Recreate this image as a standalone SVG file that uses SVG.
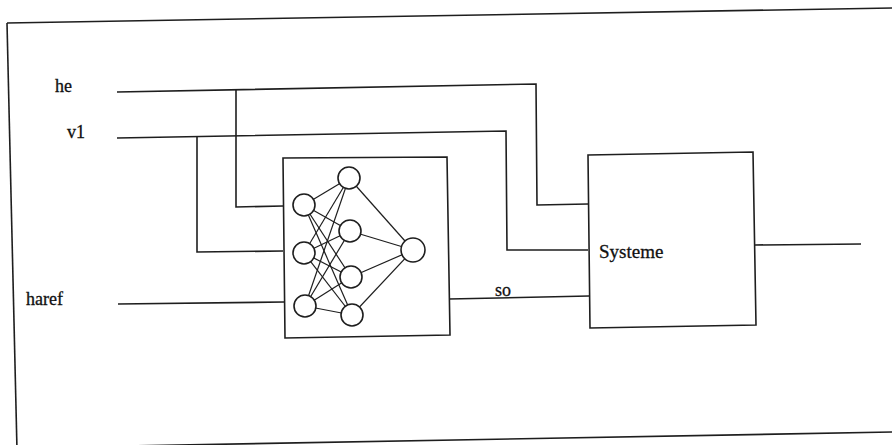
<svg xmlns="http://www.w3.org/2000/svg" width="892" height="445" viewBox="0 0 892 445">
<style>
.ln{fill:none;stroke:#1e1e1e;stroke-width:1.6;stroke-linejoin:miter}
.box{fill:#ffffff;stroke:#1e1e1e;stroke-width:1.6}
.nr{fill:#ffffff;stroke:#1e1e1e;stroke-width:1.6}
.ed{stroke:#1e1e1e;stroke-width:1.2}
.lbl{font-family:"Liberation Serif","Times New Roman",serif;font-size:18px;fill:#111;stroke:#111;stroke-width:0.3}
</style>
<rect x="0" y="0" width="892" height="445" fill="#ffffff"/>
<g id="frame" class="ln">
<path d="M7,23 L892,8"/>
<path d="M7,23 L17,450"/>
<path d="M17,448 L892,432"/>
</g>
<g id="connectors" class="ln">
<path d="M117,92 L536,84 L537,205 L588,204"/>
<path d="M236,90 L236,207 L283,206"/>
<path d="M117,138 L506,131 L507,250 L588,250"/>
<path d="M197,137 L197,252 L283,251"/>
<path d="M118,304 L284,302"/>
<path d="M449,299 L589,296"/>
<path d="M755,245 L861,244"/>
</g>
<g id="nn">
<polygon class="box" points="283,158 447,157 450,335 285,338"/>
<g id="nn-edges" class="ed">
<line x1="304" y1="205" x2="349" y2="178"/>
<line x1="304" y1="205" x2="350" y2="231"/>
<line x1="304" y1="205" x2="351" y2="277"/>
<line x1="304" y1="205" x2="352" y2="315"/>
<line x1="304" y1="253" x2="349" y2="178"/>
<line x1="304" y1="253" x2="350" y2="231"/>
<line x1="304" y1="253" x2="351" y2="277"/>
<line x1="304" y1="253" x2="352" y2="315"/>
<line x1="305" y1="306" x2="349" y2="178"/>
<line x1="305" y1="306" x2="350" y2="231"/>
<line x1="305" y1="306" x2="351" y2="277"/>
<line x1="305" y1="306" x2="352" y2="315"/>
<line x1="349" y1="178" x2="413" y2="250"/>
<line x1="350" y1="231" x2="413" y2="250"/>
<line x1="351" y1="277" x2="413" y2="250"/>
<line x1="352" y1="315" x2="413" y2="250"/>
</g>
<circle class="nr" cx="304" cy="205" r="11"/>
<circle class="nr" cx="304" cy="253" r="11"/>
<circle class="nr" cx="305" cy="306" r="11"/>
<circle class="nr" cx="349" cy="178" r="11"/>
<circle class="nr" cx="350" cy="231" r="11"/>
<circle class="nr" cx="351" cy="277" r="11"/>
<circle class="nr" cx="352" cy="315" r="11"/>
<circle class="nr" cx="413" cy="250" r="12"/>
</g>
<g id="systeme">
<polygon class="box" points="588,155 753,152 756,325 590,328"/>
<text class="lbl" x="599" y="258" style="font-size:19px">Systeme</text>
</g>
<g id="labels">
<text class="lbl" x="55" y="92">he</text>
<text class="lbl" x="67" y="138">v1</text>
<text class="lbl" x="26" y="305">haref</text>
<text class="lbl" x="495" y="296">so</text>
</g>
</svg>
